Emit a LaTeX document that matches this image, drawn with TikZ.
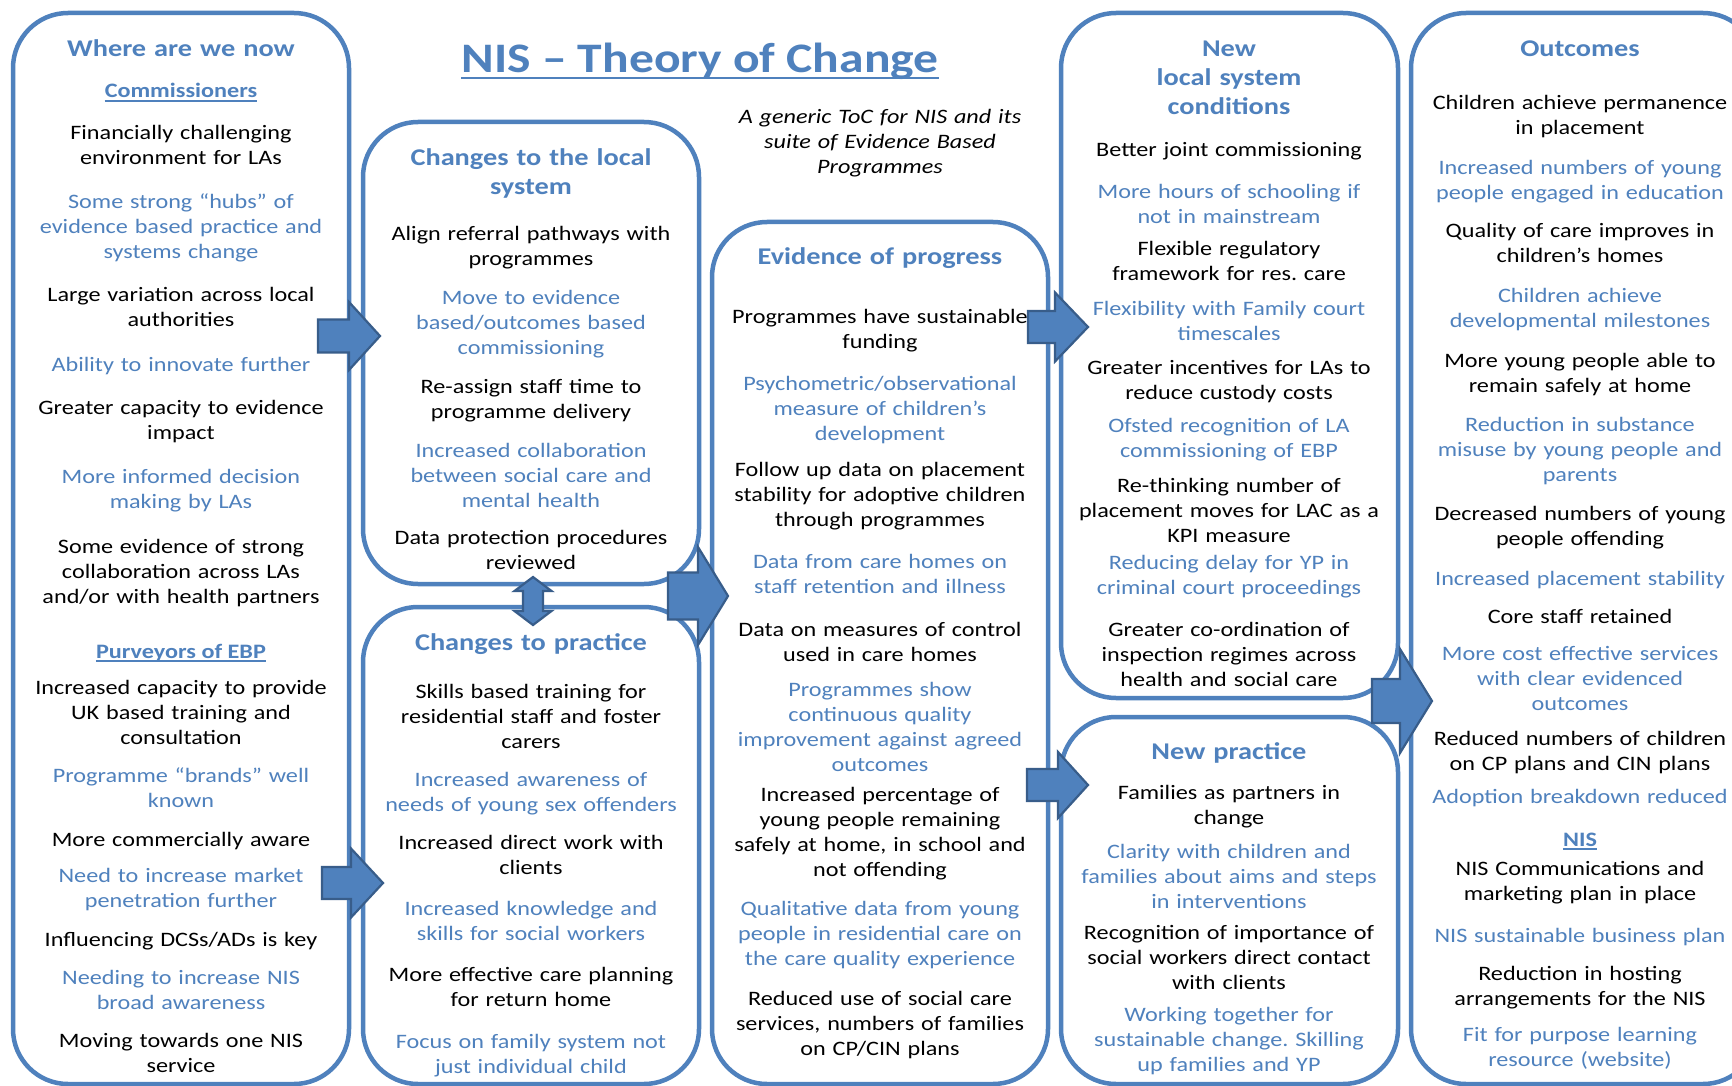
\documentclass[tikz,border=0pt]{standalone}
\usepackage{fontspec}
\setmainfont{Carlito}[FakeStretch=1.18]
\frenchspacing

\definecolor{tocblue}{HTML}{4F81BD}
\definecolor{tocedge}{HTML}{385D8A}

\tikzset{
  panel/.style={draw=tocblue, line width=4.5pt, rounded corners=55pt},
  itembox/.style={text width=340pt, align=center, inner sep=0pt, anchor=north,
    execute at begin node=\strut, execute at end node=\strut},
  dark/.style={itembox, text=black, font=\fontsize{20.5}{25}\selectfont, yshift=11pt},
  light/.style={itembox, text=tocblue, font=\fontsize{20.5}{25}\selectfont, yshift=11pt},
  boxtitle/.style={itembox, text=tocblue, font=\fontsize{24}{29}\selectfont\bfseries, yshift=12.6pt},
  ulhead/.style={anchor=base, inner sep=0pt, text=tocblue, font=\fontsize{20.5}{25}\selectfont\bfseries},
  uline/.style={draw=tocblue, line width=1.6pt},
  blockarrow/.style={fill=tocblue, draw=tocedge, line width=2.2pt, line join=miter},
}

% right pointing block arrow: tip x, tip y, tail x, shaft half width, head base x, head half width
\newcommand{\rightblock}[6]{%
  \filldraw[blockarrow] (#3,{#2-#4}) -- (#5,{#2-#4}) -- (#5,{#2-#6}) -- (#1,#2)
    -- (#5,{#2+#6}) -- (#5,{#2+#4}) -- (#3,{#2+#4}) -- cycle;}

\begin{document}
\begin{tikzpicture}[x=1pt,y=-1pt]
  \useasboundingbox (0,0) rectangle (1732,1086);
  \clip (0,0) rectangle (1732,1086);
  \fill[white] (0,0) rectangle (1732,1086);

  % panels
  \draw[panel] (13,13) rectangle (349,1084);
  \draw[panel] (363,122) rectangle (699,584);
  \draw[panel] (363,607) rectangle (699,1084);
  \draw[panel] (712,222) rectangle (1048,1084);
  \draw[panel] (1061,13) rectangle (1398,698);
  \draw[panel] (1061,717) rectangle (1398,1084);
  \draw[panel] (1411,13) rectangle (1758,1084);

  % heading
  \node[anchor=base, inner sep=0pt, text=tocblue, font=\fontsize{42}{50}\selectfont\bfseries] (title) at (700,73) {NIS – Theory of Change};
  \draw[tocblue, line width=2.5pt] ([yshift=-5pt]title.base west) -- ([yshift=-5pt]title.base east);
  \node[dark, font=\fontsize{20.5}{25}\selectfont\itshape] (sub) at (880,117) {A generic ToC for NIS and its\\suite of Evidence Based\\Programmes};

  % where are we now
  \node[boxtitle] (w0) at (181,48.6) {Where are we now};
  \node[ulhead] (w1) at (181,98) {Commissioners};
  \draw[uline] ([yshift=-3pt]w1.base west) -- ([yshift=-3pt]w1.base east);
  \node[dark] (w2) at (181,132.5) {Financially challenging\\environment for LAs};
  \node[light] (w3) at (181,202) {Some strong “hubs” of\\evidence based practice and\\systems change};
  \node[dark] (w4) at (181,295) {Large variation across local\\authorities};
  \node[light] (w5) at (181,364.5) {Ability to innovate further};
  \node[dark] (w6) at (181,407.6) {Greater capacity to evidence\\impact};
  \node[light] (w7) at (181,477) {More informed decision\\making by LAs};
  \node[dark] (w8) at (181,546.8) {Some evidence of strong\\collaboration across LAs\\and/or with health partners};
  \node[ulhead] (w9) at (181,658) {Purveyors of EBP};
  \draw[uline] ([yshift=-3pt]w9.base west) -- ([yshift=-3pt]w9.base east);
  \node[dark] (w10) at (181,688) {Increased capacity to provide\\UK based training and\\consultation};
  \node[light] (w11) at (181,775.4) {Programme “brands” well\\known};
  \node[dark] (w12) at (181,839.5) {More commercially aware};
  \node[light] (w13) at (181,876) {Need to increase market\\penetration further};
  \node[dark] (w14) at (181,940) {Influencing DCSs/ADs is key};
  \node[light] (w15) at (181,977.6) {Needing to increase NIS\\broad awareness};
  \node[dark] (w16) at (181,1040.5) {Moving towards one NIS\\service};

  % changes to the local system
  \node[boxtitle] (c0) at (531,158) {Changes to the local\\system};
  \node[dark] (c1) at (531,234) {Align referral pathways with\\programmes};
  \node[light] (c2) at (531,298) {Move to evidence\\based/outcomes based\\commissioning};
  \node[dark] (c3) at (531,386.6) {Re-assign staff time to\\programme delivery};
  \node[light] (c4) at (531,450.7) {Increased collaboration\\between social care and\\mental health};
  \node[dark] (c5) at (531,538) {Data protection procedures\\reviewed};

  % changes to practice
  \node[boxtitle] (p0) at (531,643) {Changes to practice};
  \node[dark] (p1) at (531,691.5) {Skills based training for\\residential staff and foster\\carers};
  \node[light] (p2) at (531,780) {Increased awareness of\\needs of young sex offenders};
  \node[dark] (p3) at (531,843) {Increased direct work with\\clients};
  \node[light] (p4) at (531,909) {Increased knowledge and\\skills for social workers};
  \node[dark] (p5) at (531,975) {More effective care planning\\for return home};
  \node[light] (p6) at (531,1041.6) {Focus on family system not\\just individual child};

  % evidence of progress
  \node[boxtitle] (e0) at (880,257) {Evidence of progress};
  \node[dark] (e1) at (880,317) {Programmes have sustainable\\funding};
  \node[light] (e2) at (880,384) {Psychometric/observational\\measure of children’s\\development};
  \node[dark] (e3) at (880,469.5) {Follow up data on placement\\stability for adoptive children\\through programmes};
  \node[light] (e4) at (880,562) {Data from care homes on\\staff retention and illness};
  \node[dark] (e5) at (880,629.6) {Data on measures of control\\used in care homes};
  \node[light] (e6) at (880,690) {Programmes show\\continuous quality\\improvement against agreed\\outcomes};
  \node[dark] (e7) at (880,795) {Increased percentage of\\young people remaining\\safely at home, in school and\\not offending};
  \node[light] (e8) at (880,909) {Qualitative data from young\\people in residential care on\\the care quality experience};
  \node[dark] (e9) at (880,998.6) {Reduced use of social care\\services, numbers of families\\on CP/CIN plans};

  % new local system conditions
  \node[boxtitle] (s0) at (1229,48.6) {New\\local system\\conditions};
  \node[dark] (s1) at (1229,150) {Better joint commissioning};
  \node[light] (s2) at (1229,192) {More hours of schooling if\\not in mainstream};
  \node[dark] (s3) at (1229,248.5) {Flexible regulatory\\framework for res. care};
  \node[light] (s4) at (1229,309) {Flexibility with Family court\\timescales};
  \node[dark] (s5) at (1229,367.8) {Greater incentives for LAs to\\reduce custody costs};
  \node[light] (s6) at (1229,426) {Ofsted recognition of LA\\commissioning of EBP};
  \node[dark] (s7) at (1229,486) {Re-thinking number of\\placement moves for LAC as a\\KPI measure};
  \node[light] (s8) at (1229,563) {Reducing delay for YP in\\criminal court proceedings};
  \node[dark] (s9) at (1229,629.6) {Greater co-ordination of\\inspection regimes across\\health and social care};

  % new practice
  \node[boxtitle] (n0) at (1229,752) {New practice};
  \node[dark] (n1) at (1229,793) {Families as partners in\\change};
  \node[light] (n2) at (1229,851.6) {Clarity with children and\\families about aims and steps\\in interventions};
  \node[dark] (n3) at (1229,933) {Recognition of importance of\\social workers direct contact\\with clients};
  \node[light] (n4) at (1229,1015) {Working together for\\sustainable change. Skilling\\up families and YP};

  % outcomes
  \node[boxtitle] (o0) at (1580,48.6) {Outcomes};
  \node[dark] (o1) at (1580,102.7) {Children achieve permanence\\in placement};
  \node[light] (o2) at (1580,168) {Increased numbers of young\\people engaged in education};
  \node[dark] (o3) at (1580,231) {Quality of care improves in\\children’s homes};
  \node[light] (o4) at (1580,296) {Children achieve\\developmental milestones};
  \node[dark] (o5) at (1580,361) {More young people able to\\remain safely at home};
  \node[light] (o6) at (1580,425) {Reduction in substance\\misuse by young people and\\parents};
  \node[dark] (o7) at (1580,513.6) {Decreased numbers of young\\people offending};
  \node[light] (o8) at (1580,578.8) {Increased placement stability};
  \node[dark] (o9) at (1580,616.4) {Core staff retained};
  \node[light] (o10) at (1580,654) {More cost effective services\\with clear evidenced\\outcomes};
  \node[dark] (o11) at (1580,739) {Reduced numbers of children\\on CP plans and CIN plans};
  \node[light] (o12) at (1580,796.4) {Adoption breakdown reduced};
  \node[ulhead] (o13) at (1580,846) {NIS};
  \draw[uline] ([yshift=-3pt]o13.base west) -- ([yshift=-3pt]o13.base east);
  \node[dark] (o14) at (1580,869) {NIS Communications and\\marketing plan in place};
  \node[light] (o15) at (1580,935.6) {NIS sustainable business plan};
  \node[dark] (o16) at (1580,974) {Reduction in hosting\\arrangements for the NIS};
  \node[light] (o17) at (1580,1035) {Fit for purpose learning\\resource (website)};

  % block arrows between panels
  \rightblock{380}{336}{318}{16.5}{349}{34}
  \rightblock{383}{883}{322}{16}{351}{34.5}
  \rightblock{728}{596}{668}{23.5}{698}{49}
  \rightblock{1088}{327}{1028}{16}{1055}{34.5}
  \rightblock{1088}{785}{1027}{16}{1058}{33}
  \rightblock{1432}{701}{1372}{22}{1400}{52}
  \filldraw[blockarrow] (533,577) -- (551.5,591) -- (543,591) -- (543,611) -- (551.5,611)
    -- (533,625) -- (514.5,611) -- (523,611) -- (523,591) -- (514.5,591) -- cycle;
\end{tikzpicture}
\end{document}
